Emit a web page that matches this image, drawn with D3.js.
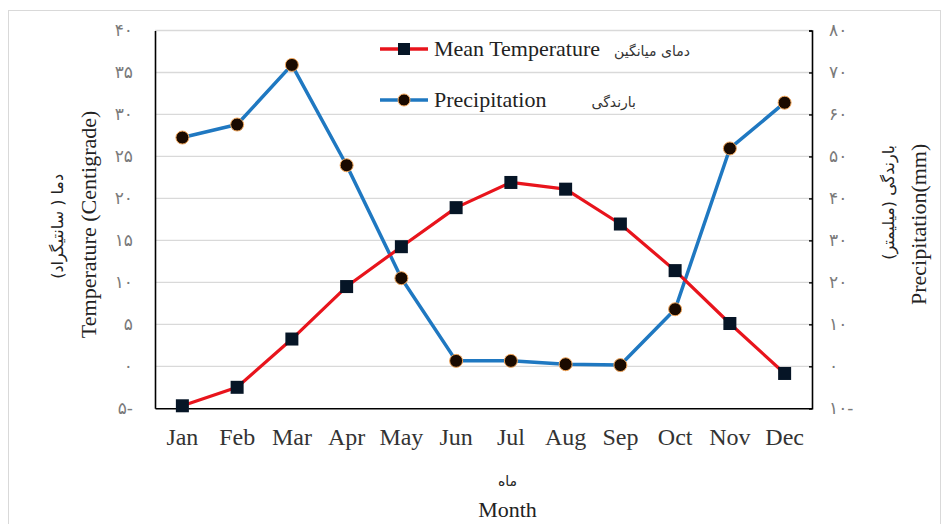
<!DOCTYPE html>
<html>
<head>
<meta charset="utf-8">
<script src="https://cdn.jsdelivr.net/npm/d3@7"></script>
<style>
  html, body { margin: 0; padding: 0; background: #fff; }
  svg { display: block; }
  .serif { font-family: "Liberation Serif", "Times New Roman", serif; }
  .fa { font-family: "DejaVu Sans", "Noto Sans", sans-serif; }
</style>
</head>
<body>
<svg id="chart" width="946" height="524"></svg>
<script>
// Monthly climate data
const months = ["Jan", "Feb", "Mar", "Apr", "May", "Jun", "Jul", "Aug", "Sep", "Oct", "Nov", "Dec"];
const meanTemperature = [-4.7, -2.5, 3.25, 9.5, 14.25, 18.9, 21.9, 21.1, 16.95, 11.4, 5.1, -0.85];
const precipitation = [54.5, 57.6, 71.8, 47.9, 21.0, 1.3, 1.3, 0.5, 0.3, 13.6, 51.9, 62.8];
const temperatureTicks = [-5, 0, 5, 10, 15, 20, 25, 30, 35, 40];
const precipitationTicks = [-10, 0, 10, 20, 30, 40, 50, 60, 70, 80];

// Persian numerals, minus sign written after the digits
const faDigits = "۰۱۲۳۴۵۶۷۸۹";
const toFa = v => {
  const s = String(Math.abs(v)).replace(/[0-9]/g, d => faDigits[+d]);
  return v < 0 ? s + "-" : s;
};

const svg = d3.select("#chart");
const plotLeft = 155, plotRight = 812, plotTop = 30.5, plotBottom = 408.3;

const x = d3.scaleBand().domain(months).range([plotLeft, plotRight]);
const yT = d3.scaleLinear().domain([-5, 40]).range([plotBottom, plotTop]);
const yP = d3.scaleLinear().domain([-10, 80]).range([plotBottom, plotTop]);
const cx = i => x(months[i]) + x.bandwidth() / 2;

// Outer frame
svg.append("rect")
  .attr("x", 8.5).attr("y", 10.5).attr("width", 932).attr("height", 520)
  .attr("fill", "none").attr("stroke", "#d9d9d9").attr("stroke-width", 1);

// Horizontal gridlines
svg.append("g")
  .selectAll("line")
  .data(temperatureTicks.filter(t => t > -5))
  .join("line")
  .attr("x1", plotLeft).attr("x2", plotRight)
  .attr("y1", d => yT(d)).attr("y2", d => yT(d))
  .attr("stroke", "#d9d9d9").attr("stroke-width", 1.3);

// Left axis (temperature)
const gL = svg.append("g").attr("transform", `translate(${plotLeft},0)`)
  .call(d3.axisLeft(yT).tickValues(temperatureTicks).tickSize(0).tickPadding(22).tickFormat(toFa));
gL.select(".domain").attr("stroke", "#000").attr("stroke-width", 1.6);
gL.selectAll("text").attr("class", "fa").attr("font-size", 17).attr("fill", "#7a7a7a");

// Right axis (precipitation)
const gR = svg.append("g").attr("transform", `translate(${plotRight},0)`)
  .call(d3.axisRight(yP).tickValues(precipitationTicks).tickSize(-3).tickPadding(17).tickFormat(toFa));
gR.select(".domain").attr("stroke", "#000").attr("stroke-width", 1.6);
gR.selectAll(".tick line").attr("stroke", "#000").attr("stroke-width", 1.4);
gR.selectAll("text").attr("class", "fa").attr("font-size", 17).attr("fill", "#7a7a7a");

// Bottom axis (months)
const gB = svg.append("g").attr("transform", `translate(0,${plotBottom})`)
  .call(d3.axisBottom(x).tickSize(0).tickPadding(20));
gB.select(".domain").attr("stroke", "#000").attr("stroke-width", 1.6);
gB.selectAll("text").attr("class", "serif").attr("font-size", 24).attr("fill", "#333");

// Precipitation line
const lineP = d3.line().x((d, i) => cx(i)).y(d => yP(d));
svg.append("path").datum(precipitation)
  .attr("d", lineP).attr("fill", "none")
  .attr("stroke", "#1f78c1").attr("stroke-width", 3.5).attr("stroke-linejoin", "round");

// Temperature line
const lineT = d3.line().x((d, i) => cx(i)).y(d => yT(d));
svg.append("path").datum(meanTemperature)
  .attr("d", lineT).attr("fill", "none")
  .attr("stroke", "#e8141c").attr("stroke-width", 3.2).attr("stroke-linejoin", "round");

// Precipitation markers
svg.append("g").selectAll("circle")
  .data(precipitation)
  .join("circle")
  .attr("cx", (d, i) => cx(i))
  .attr("cy", d => yP(d))
  .attr("r", 6.5)
  .attr("fill", "#1a0a00").attr("stroke", "#f2a65a").attr("stroke-width", 1);

// Temperature markers
const sq = 13;
svg.append("g").selectAll("rect")
  .data(meanTemperature)
  .join("rect")
  .attr("x", (d, i) => cx(i) - sq / 2)
  .attr("y", d => yT(d) - sq / 2)
  .attr("width", sq).attr("height", sq)
  .attr("fill", "#061526");

// Legend
const legend = svg.append("g");
const legendRows = [
  { y: 49, color: "#e8141c", en: "Mean Temperature", fa: "دمای میانگین", faX: 690, shape: "rect" },
  { y: 100, color: "#1f78c1", en: "Precipitation", fa: "بارندگی", faX: 636, shape: "circle" }
];
legendRows.forEach(r => {
  legend.append("line").attr("x1", 380).attr("x2", 428).attr("y1", r.y).attr("y2", r.y)
    .attr("stroke", r.color).attr("stroke-width", 3.5);
  if (r.shape === "rect") {
    legend.append("rect").attr("x", 404 - 6).attr("y", r.y - 6).attr("width", 12).attr("height", 12)
      .attr("fill", "#061526");
  } else {
    legend.append("circle").attr("cx", 404).attr("cy", r.y).attr("r", 6)
      .attr("fill", "#1a0a00").attr("stroke", "#f2a65a").attr("stroke-width", 1);
  }
  legend.append("text").attr("class", "serif").attr("x", 434).attr("y", r.y + 7)
    .attr("font-size", 22).attr("fill", "#222").text(r.en);
  legend.append("text").attr("class", "fa").attr("x", r.faX).attr("y", r.y + 7)
    .attr("text-anchor", "end")
    .attr("font-size", 14).attr("fill", "#333").text(r.fa);
});

// Axis titles
const midY = (plotTop + plotBottom) / 2;
svg.append("text").attr("class", "fa")
  .attr("transform", `translate(63,${midY + 7}) rotate(-90)`)
  .attr("text-anchor", "middle").attr("font-size", 16).attr("fill", "#222")
  .text("دما ( سانتیگراد)");
svg.append("text").attr("class", "serif")
  .attr("transform", `translate(96,${midY + 5}) rotate(-90)`)
  .attr("text-anchor", "middle").attr("font-size", 22).attr("fill", "#222")
  .text("Temperature (Centigrade)");
svg.append("text").attr("class", "fa")
  .attr("transform", `translate(894,${midY - 17}) rotate(-90)`)
  .attr("text-anchor", "middle").attr("font-size", 16).attr("fill", "#222")
  .text("بارندگی (میلیمتر)");
svg.append("text").attr("class", "serif")
  .attr("transform", `translate(926,${midY + 5}) rotate(-90)`)
  .attr("text-anchor", "middle").attr("font-size", 22).attr("fill", "#222")
  .text("Precipitation(mm)");

svg.append("text").attr("class", "fa")
  .attr("x", (plotLeft + plotRight) / 2 + 24).attr("y", 486)
  .attr("text-anchor", "middle").attr("font-size", 14).attr("fill", "#222").text("ماه");
svg.append("text").attr("class", "serif")
  .attr("x", (plotLeft + plotRight) / 2 + 24).attr("y", 517)
  .attr("text-anchor", "middle").attr("font-size", 22).attr("fill", "#222").text("Month");
</script>
</body>
</html>
